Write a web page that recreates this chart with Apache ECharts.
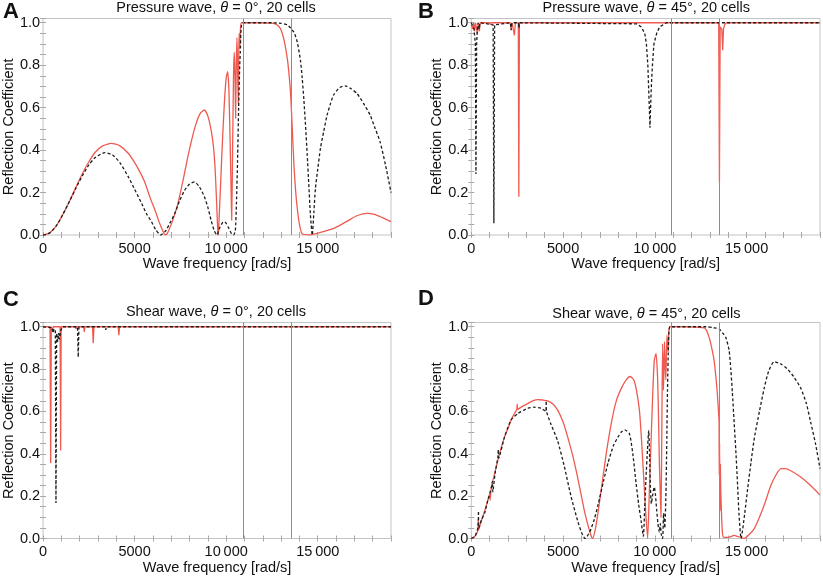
<!DOCTYPE html>
<html><head><meta charset="utf-8">
<script src="https://cdn.jsdelivr.net/npm/echarts@6/dist/echarts.min.js"></script>
<style>html,body{margin:0;padding:0;background:#fff}#c{width:823px;height:577px}</style>
</head><body><div id="c"></div>
<script>
// ---------- data ----------
const panelLetters = ['A', 'B', 'C', 'D'];
const panelTitles = [
  'Pressure wave, θ = 0°, 20 cells',
  'Pressure wave, θ = 45°, 20 cells',
  'Shear wave, θ = 0°, 20 cells',
  'Shear wave, θ = 45°, 20 cells'
];
const xAxisTitle = 'Wave frequency [rad/s]';
const yAxisTitle = 'Reflection Coefficient';
const xTickLabels = [0, 5000, 10000, 15000];
const yTickLabels = [0, 0.2, 0.4, 0.6, 0.8, 1.0];
const bandEdges = [10910, 13530];

const pressure0Red = [[0,0],[370,0.01],[740,0.045],[1100,0.1],[1450,0.16],[1800,0.225],[2150,0.29],[2500,0.345],[2850,0.39],[3250,0.42],[3730,0.432],[4200,0.42],[4650,0.385],[5010,0.34],[5300,0.295],[5550,0.25],[5850,0.175],[6100,0.12],[6300,0.07],[6460,0.035],[6600,0.008],[6680,0],
  [6800,0.01],[7000,0.05],[7200,0.1],[7370,0.15],[7650,0.26],[7910,0.37],[8150,0.46],[8360,0.526],[8600,0.575],[8810,0.589],[9000,0.56],[9175,0.495],[9300,0.42],[9390,0.32],[9470,0.17],[9540,0.02],[9570,0],
  [9600,0.05],[9700,0.25],[9800,0.45],[9900,0.62],[10000,0.74],[10080,0.77],[10150,0.68],[10220,0.42],[10270,0.2],[10300,0.07],[10350,0.4],[10400,0.75],[10440,0.86],[10480,0.75],[10515,0.55],[10550,0.8],[10590,0.93],[10630,0.75],[10660,0.62],[10690,0.88],[10710,0.95],[10740,0.88],[10780,0.97],[10840,1.0],
  [11500,1.0],[12500,0.998],[12700,0.993],[12850,0.985],[12975,0.97],[13155,0.92],[13340,0.83],[13450,0.74],[13520,0.66],[13610,0.5],[13700,0.33],[13790,0.21],[13880,0.127],[14000,0.05],[14150,0.005],[14500,0.001],[14970,0.008],[15400,0.018],[15870,0.031],[16300,0.05],[16800,0.075],[17200,0.093],[17680,0.102],[18100,0.097],[18500,0.083],[19000,0.063]];
const pressure0Black = [[0,0],[370,0.01],[740,0.045],[1100,0.1],[1450,0.16],[1800,0.222],[2150,0.28],[2500,0.33],[2850,0.365],[3370,0.388],[3800,0.377],[4200,0.34],[4650,0.275],[5000,0.215],[5375,0.15],[5650,0.1],[5917,0.063],[6150,0.025],[6425,0],
  [6700,0.02],[6950,0.06],[7185,0.1],[7450,0.16],[7725,0.21],[8000,0.24],[8270,0.25],[8550,0.225],[8810,0.18],[9000,0.13],[9175,0.07],[9350,0.02],[9500,0],[9650,0.035],[9800,0.058],[9900,0.063],[10000,0.055],[10150,0.03],[10300,0.005],[10400,0],[10500,0.02],[10560,0.15],[10620,0.345],[10680,0.6],[10740,0.8],[10770,0.86],[10800,0.95],[10840,0.99],[10900,1.0],
  [12500,1.0],[13000,0.997],[13340,0.99],[13520,0.975],[13700,0.955],[13880,0.91],[14060,0.82],[14150,0.74],[14240,0.64],[14330,0.52],[14425,0.377],[14510,0.24],[14600,0.094],[14700,0],[14790,0.11],[14875,0.22],[15000,0.31],[15150,0.41],[15330,0.49],[15510,0.565],[15700,0.62],[15870,0.66],[16200,0.695],[16500,0.703],[16800,0.69],[17140,0.667],[17500,0.62],[17860,0.565],[18100,0.51],[18400,0.44],[18700,0.33],[19000,0.2]];

const pressure45Red = [[0,0.99],[80,0.97],[130,1.0],[180,0.96],[230,1.0],[330,0.95],[370,1.0],[440,0.96],[480,1.0],[1000,1.0],[1040,0.99],[1080,1.0],[2120,1.0],[2170,0.97],[2220,1.0],[2300,1.0],[2350,0.94],[2400,1.0],[2560,1.0],[2590,0.18],[2620,1.0],[13480,1.0],[13520,0.25],[13560,0.98],[13650,0.97],[13700,0.87],[13740,0.97],[13800,0.99],[13900,1.0],[19000,1.0]];
const pressure45Black = [[0,1.0],[150,0.97],[220,0.9],[253,0.287],[290,0.9],[330,0.97],[380,1.0],[430,0.97],[470,1.0],[1190,0.99],[1230,0.055],[1270,0.99],[2130,1.0],[2170,0.965],[2210,1.0],[2570,1.0],[2600,0.975],[2630,1.0],[9000,0.995],[9265,0.98],[9450,0.95],[9540,0.9],[9620,0.8],[9660,0.7],[9700,0.6],[9735,0.505],[9770,0.6],[9810,0.7],[9870,0.8],[9950,0.9],[10100,0.95],[10260,0.98],[10620,1.0],[19000,1.0]];

const shear0Red = [[0,1.0],[380,1.0],[416,0.357],[450,1.0],[520,0.98],[560,1.0],[930,1.0],[960,0.415],[990,1.0],[1770,1.0],[1800,0.99],[1830,1.0],[2220,1.0],[2250,0.975],[2280,1.0],[2700,1.0],[2740,0.922],[2780,1.0],[4100,1.0],[4140,0.96],[4180,1.0],[19000,1.0]];
const shear0Black = [[0,1.0],[500,0.995],[543,0.97],[600,0.99],[670,0.98],[705,0.168],[740,0.97],[800,0.93],[850,0.97],[900,0.94],[960,0.98],[1050,1.0],[1880,1.0],[1920,0.856],[1960,1.0],[3380,1.0],[3420,0.985],[3460,1.0],[19000,1.0]];

const shear45Red = [[0,0],[200,0.01],[364,0.04],[380,0.09],[395,0.04],[500,0.07],[727,0.13],[900,0.18],[1000,0.21],[1020,0.18],[1090,0.24],[1250,0.3],[1450,0.37],[1600,0.42],[1812,0.48],[2000,0.52],[2170,0.56],[2350,0.59],[2480,0.61],[2500,0.635],[2535,0.61],[2800,0.625],[3080,0.637],[3350,0.65],[3620,0.656],[3900,0.654],[4165,0.65],[4450,0.635],[4707,0.606],[5000,0.55],[5250,0.48],[5530,0.39],[5790,0.29],[6000,0.2],[6156,0.133],[6335,0.07],[6500,0.02],[6600,0],
  [6750,0.04],[6900,0.12],[7090,0.237],[7350,0.4],[7640,0.55],[7900,0.65],[8180,0.71],[8450,0.75],[8650,0.765],[8850,0.75],[9000,0.7],[9160,0.606],[9250,0.5],[9340,0.37],[9430,0.23],[9520,0.1],[9610,0],
  [9700,0.22],[9790,0.45],[9880,0.67],[9970,0.84],[10065,0.874],[10150,0.76],[10200,0.58],[10245,0.37],[10300,0.2],[10335,0.1],[10380,0.5],[10425,0.92],[10470,0.7],[10530,0.93],[10570,0.8],[10600,0.75],[10660,0.96],[10720,0.88],[10760,0.97],[10825,1.0],
  [11500,1.0],[12690,0.995],[12800,0.985],[12960,0.95],[13100,0.9],[13230,0.84],[13330,0.76],[13410,0.68],[13470,0.6],[13500,0.55],[13510,0.3],[13530,0.45],[13550,0.13],[13570,0.35],[13590,0.24],[13620,0.15],[13650,0.08],[13680,0.03],[13750,0.005],[14000,0.005],[14330,0.015],[14500,0.01],[14690,0.005],[14870,0],[15100,0.015],[15420,0.047],[15700,0.1],[15960,0.158],[16320,0.25],[16600,0.3],[16870,0.33],[17100,0.33],[17410,0.32],[17950,0.29],[18490,0.25],[19000,0.205]];
const shear45Black = [[0,0],[200,0.01],[364,0.053],[390,0.13],[410,0.05],[560,0.09],[727,0.12],[900,0.18],[1090,0.24],[1150,0.27],[1170,0.22],[1300,0.31],[1450,0.385],[1470,0.42],[1490,0.38],[1812,0.48],[2170,0.56],[2535,0.59],[3080,0.615],[3440,0.62],[3800,0.615],[4070,0.6],[4080,0.65],[4100,0.6],[4340,0.54],[4707,0.46],[5070,0.34],[5430,0.2],[5790,0.085],[6000,0.03],[6200,0],
  [6450,0.03],[6700,0.09],[6910,0.16],[7200,0.27],[7460,0.36],[7750,0.44],[8000,0.48],[8200,0.505],[8360,0.513],[8615,0.495],[8800,0.4],[8980,0.26],[9120,0.16],[9250,0.085],[9375,0.01],[9450,0.15],[9520,0.29],[9600,0.42],[9665,0.51],[9720,0.38],[9760,0.24],[9810,0.165],[9890,0.21],[9970,0.243],[10030,0.21],[10100,0.135],[10170,0.07],[10245,0.03],[10300,0.07],[10350,0.02],[10425,0.0],[10480,0.12],[10540,0.05],[10600,0.19],[10650,0.45],[10690,0.7],[10750,0.93],[10825,1.0],
  [12800,1.0],[13200,0.995],[13500,0.99],[13700,0.97],[13865,0.95],[14045,0.89],[14140,0.8],[14225,0.69],[14320,0.55],[14410,0.42],[14500,0.27],[14590,0.11],[14700,0],[14900,0.12],[15060,0.237],[15240,0.36],[15420,0.473],[15700,0.6],[15960,0.71],[16200,0.79],[16500,0.835],[16850,0.825],[17230,0.8],[17600,0.76],[17950,0.71],[18250,0.64],[18490,0.55],[18750,0.45],[19000,0.33]];

const panelRed = [pressure0Red, pressure45Red, shear0Red, shear45Red];
const panelBlack = [pressure0Black, pressure45Black, shear0Black, shear45Black];

// ---------- layout / style ----------
const FONT = '"Liberation Sans", Arial, sans-serif';
const RED = '#ef5a50';
const BLACK = '#1c1c1c';
const FRAME = '#c4c4c4';
const TICK = '#a8a8a8';
const grids = [
  {left: 41, top: 18.5, width: 350, height: 216.5},
  {left: 471.3, top: 18.5, width: 350, height: 216.5},
  {left: 41, top: 322.5, width: 350, height: 216},
  {left: 471.3, top: 322.5, width: 350, height: 216}
];
const smoothPanels = [0.2, 0, 0, 0.2];
const letterPos = [[3, 0.5], [418, 0.5], [3, 289], [418, 288]];
const titleTop = [0.5, 0.5, 304.5, 306];

function fmtX(v) {
  if (xTickLabels.indexOf(v) < 0) return '';
  const s = String(v);
  return v >= 10000 ? s.slice(0, s.length - 3) + '\u2009' + s.slice(s.length - 3) : s;
}
function fmtY(v) {
  for (const t of yTickLabels) if (Math.abs(v - t) < 1e-6) return t.toFixed(1);
  return '';
}

const option = {
  animation: false,
  backgroundColor: '#fff',
  title: [],
  grid: [],
  xAxis: [],
  yAxis: [],
  series: []
};

grids.forEach((g, i) => {
  option.grid.push(Object.assign({show: true, borderColor: FRAME, borderWidth: 1, containLabel: false}, g));
  const tickCommon = {show: true, inside: true, length: 3, lineStyle: {color: TICK, width: 1}};
  option.xAxis.push({
    gridIndex: i, type: 'value', min: 0, max: 19000, interval: 1000, position: 'bottom',
    axisLine: {show: false}, axisTick: tickCommon, splitLine: {show: false},
    axisLabel: {margin: 6, fontSize: 14.5, color: '#111', fontFamily: FONT, formatter: fmtX},
    name: xAxisTitle, nameLocation: 'middle', nameGap: 20,
    nameTextStyle: {fontSize: 14.5, color: '#111', fontFamily: FONT}
  });
  option.yAxis.push({
    gridIndex: i, type: 'value', min: 0, max: 1.02, interval: 0.05, position: 'left',
    axisLine: {show: false}, axisTick: tickCommon, splitLine: {show: false},
    axisLabel: {margin: 3, fontSize: 14.5, color: '#111', fontFamily: FONT, formatter: fmtY},
    name: yAxisTitle, nameLocation: 'middle', nameGap: 22,
    nameTextStyle: {fontSize: 14.5, color: '#111', fontFamily: FONT}
  });
});
grids.forEach((g, i) => {
  const tickCommon = {show: true, inside: true, length: 3, lineStyle: {color: TICK, width: 1}};
  option.xAxis.push({
    gridIndex: i, type: 'value', min: 0, max: 19000, interval: 1000, position: 'top',
    axisLine: {show: false}, axisTick: tickCommon, splitLine: {show: false}, axisLabel: {show: false}
  });
  option.yAxis.push({
    gridIndex: i, type: 'value', min: 0, max: 1.02, interval: 0.05, position: 'right',
    axisLine: {show: false}, axisTick: tickCommon, splitLine: {show: false}, axisLabel: {show: false}
  });
});

grids.forEach((g, i) => {
  option.series.push({
    type: 'line', xAxisIndex: i, yAxisIndex: i, data: panelRed[i],
    symbol: 'none', showSymbol: false, smooth: smoothPanels[i], clip: true,
    lineStyle: {color: RED, width: 1.3}, z: 2,
    markLine: {
      silent: true, symbol: ['none', 'none'], label: {show: false},
      lineStyle: {color: '#8c8c8c', width: 1, type: 'solid'},
      emphasis: {disabled: true},
      data: bandEdges.map(v => ({xAxis: v}))
    }
  });
  option.series.push({
    type: 'line', xAxisIndex: i, yAxisIndex: i, data: panelBlack[i],
    symbol: 'none', showSymbol: false, smooth: smoothPanels[i], clip: true,
    lineStyle: {color: BLACK, width: 1.3, type: [3, 2.2]}, z: 3
  });
  option.title.push({
    text: panelLetters[i], left: letterPos[i][0], top: letterPos[i][1], padding: 0,
    textStyle: {fontSize: 22, fontWeight: 'bold', color: '#111', fontFamily: FONT}
  });
  option.title.push({
    text: panelTitles[i].replace('θ', '{i|θ}'),
    left: g.left + g.width / 2, top: titleTop[i], textAlign: 'center', padding: 0,
    textStyle: {fontSize: 14.5, fontWeight: 'normal', color: '#111', fontFamily: FONT,
      rich: {i: {fontStyle: 'italic', fontSize: 14.5, color: '#111', fontFamily: FONT}}}
  });
});

const chart = echarts.init(document.getElementById('c'), null, {renderer: 'canvas'});
chart.setOption(option);
</script>
</body></html>
